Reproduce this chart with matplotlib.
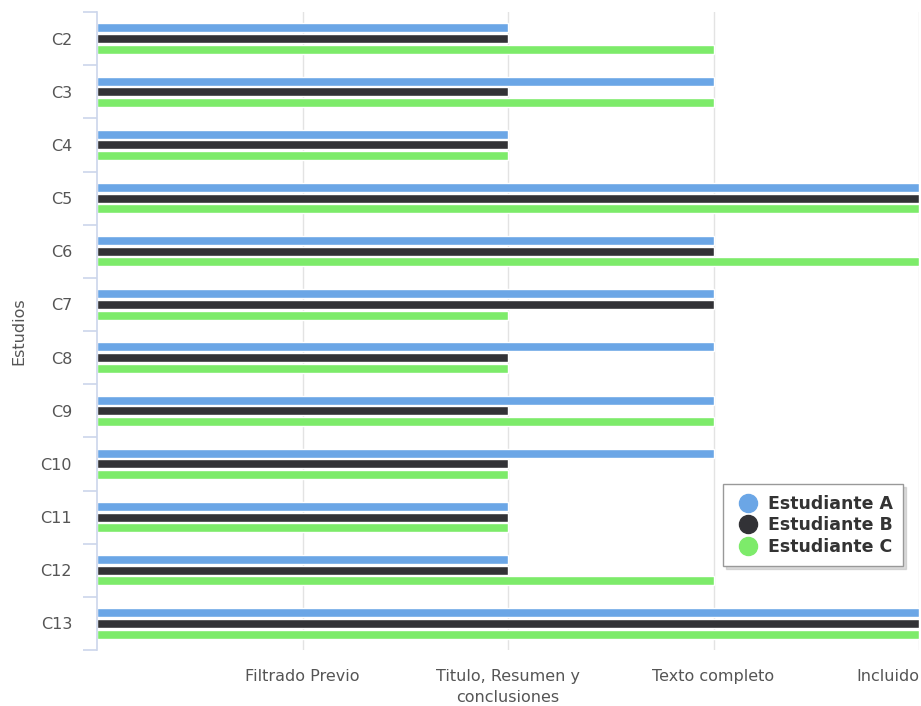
import numpy as np
import matplotlib
matplotlib.use("Agg")
import matplotlib.pyplot as plt
from matplotlib.lines import Line2D

# Fase alcanzada por cada estudio segun cada estudiante
# 1 = Filtrado Previo, 2 = Titulo/Resumen, 3 = Texto completo, 4 = Incluido
estudios = ["C2", "C3", "C4", "C5", "C6", "C7", "C8", "C9", "C10", "C11", "C12", "C13"]
estudiante_a = [2, 3, 2, 4, 3, 3, 3, 3, 3, 2, 2, 4]
estudiante_b = [2, 2, 2, 4, 3, 3, 2, 2, 2, 2, 2, 4]
estudiante_c = [3, 3, 2, 4, 4, 2, 2, 3, 2, 2, 3, 4]
fases = ["Filtrado Previo", "Titulo, Resumen y\nconclusiones", "Texto completo", "Incluido"]

series = [
    ("Estudiante A", estudiante_a, "#6ba6e6"),
    ("Estudiante B", estudiante_b, "#323236"),
    ("Estudiante C", estudiante_c, "#7deb6a"),
]

fig = plt.figure(figsize=(9.21, 7.06), dpi=100)
ax = fig.add_axes([97 / 921, 1 - 650 / 706, 822 / 921, 638 / 706])

y = np.arange(len(estudios))
offsets = [-0.2, 0.0, 0.2]
for (name, vals, col), off in zip(series, offsets):
    ax.barh(y + off, vals, height=0.17, color=col, edgecolor="white",
            linewidth=1, zorder=3, label=name)

ax.set_xlim(0, 4)
ax.set_ylim(len(estudios) - 0.5, -0.5)

# eje de categorias
ax.set_yticks(y)
ax.set_yticklabels(estudios, fontsize=11.5, color="#555555")
ax.set_yticks(np.arange(-0.5, len(estudios), 1), minor=True)
ax.tick_params(axis="y", which="major", length=0, pad=18)
ax.tick_params(axis="y", which="minor", length=10, width=1.2, color="#ccd6eb")
ax.set_ylabel("Estudios", fontsize=11.5, color="#555555", labelpad=10)

# eje de fases
ax.set_xticks([1, 2, 3, 4])
ax.set_xticklabels(fases, fontsize=11.5, color="#555555", va="top", ha="center")
ax.tick_params(axis="x", length=0, pad=14)
for lbl in ax.get_xticklabels():
    lbl.set_multialignment("center")
    lbl.set_linespacing(1.45)
ax.get_xticklabels()[-1].set_ha("right")
ax.grid(axis="x", color="#e3e3e3", linewidth=1, zorder=0)

for s in ["top", "right", "bottom"]:
    ax.spines[s].set_visible(False)
ax.spines["left"].set_color("#ccd6eb")
ax.spines["left"].set_linewidth(1.2)
ax.spines["left"].set_zorder(4)

handles = [Line2D([0], [0], marker="o", linestyle="None", markersize=13,
                  markerfacecolor=c, markeredgecolor=c, label=n)
           for n, _, c in series]
leg = ax.legend(handles=handles, loc="lower right", bbox_to_anchor=(903 / 921, 1 - 566 / 706),
                bbox_transform=fig.transFigure, frameon=True, fancybox=False,
                shadow={"color": "0.72", "ox": 2, "oy": -2}, borderaxespad=0,
                handletextpad=0.35, borderpad=0.6, labelspacing=0.2,
                handlelength=1.6, prop={"weight": "bold", "size": 12.5})
leg.get_frame().set_edgecolor("#999999")
leg.get_frame().set_linewidth(1)
for t in leg.get_texts():
    t.set_color("#333333")

fig.savefig("out.png", dpi=100, facecolor="white")
